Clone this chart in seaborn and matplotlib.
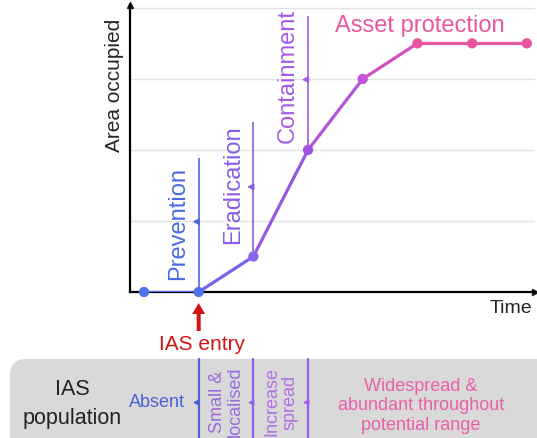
import matplotlib
matplotlib.use("Agg")
import matplotlib.pyplot as plt
import seaborn as sns
import pandas as pd
from matplotlib.patches import FancyBboxPatch
from matplotlib import transforms

# ---- data ----
time_steps = [0, 1, 2, 3, 4, 5, 6, 7]
area = [0, 0, 0.5, 2, 3, 3.5, 3.5, 3.5]
point_colors = ["#5072ea", "#5072ea", "#8a62ea", "#a052e0", "#c553d6",
                "#e8549e", "#e8549e", "#e8549e"]
segment_colors = ["#5072ea", "#7466ea", "#9458e2", "#b254da", "#d452bc",
                  "#e8559f", "#e8559f"]

stages = ["Prevention", "Eradication", "Containment"]
stage_x = [1, 2, 3]
stage_bottom = [0, 0.5, 2]
stage_top = [1.89, 2.39, 3.89]
stage_arrow_y = [0.99, 1.48, 2.99]
stage_label_x = [0.62, 1.63, 2.63]
stage_label_y = [0.98, 1.52, 3.05]
stage_colors = ["#4a6ae0", "#8a5ce6", "#a55ae6"]
final_stage = "Asset protection"
final_color = "#e8579f"

pop_labels = ["Absent", "Small &\nlocalised", "Increase\nspread",
              "Widespread &\nabundant throughout\npotential range"]
pop_colors = ["#4a62d8", "#9a6ae0", "#b070e0", "#e860a8"]
boundary_colors = ["#4a62d8", "#8a62ea", "#a55ae6"]

sns.set_theme(style="white")
plt.rcParams["font.family"] = ["Liberation Sans", "DejaVu Sans"]

fig = plt.figure(figsize=(5.37, 4.39), dpi=100)
W, H = 537, 439
overlay = fig.add_axes([0, 0, 1, 1], zorder=0)
overlay.set_xlim(0, W)
overlay.set_ylim(H, 0)
overlay.axis("off")

ax = fig.add_axes([130 / W, (H - 293) / H, 405 / W, 287 / H], zorder=1)
ax.set_facecolor("none")
ax.set_xlim(-0.256, 7.15)
ax.set_ylim(0, 4.04)
ax.set_xticks([])
ax.set_yticks([])
for g in [1, 2, 3, 4]:
    ax.axhline(g, color="#e3e3e3", lw=1, zorder=0)
for s in ["top", "right"]:
    ax.spines[s].set_visible(False)
for s in ["left", "bottom"]:
    ax.spines[s].set_color("black")
    ax.spines[s].set_linewidth(1.6)
ax.plot(1, 0, ">k", transform=ax.transAxes, clip_on=False, ms=5)
ax.plot(0, 1, "^k", transform=ax.transAxes, clip_on=False, ms=5)

# curve
for i in range(len(time_steps) - 1):
    sns.lineplot(x=time_steps[i:i + 2], y=area[i:i + 2], color=segment_colors[i],
                 lw=2.3, ax=ax, zorder=3)
df = pd.DataFrame({"t": time_steps, "a": area, "c": [str(i) for i in time_steps]})
sns.scatterplot(data=df, x="t", y="a", hue="c", palette=point_colors, s=55,
                edgecolor="none", legend=False, ax=ax, zorder=5, clip_on=False)
ax.set_xlabel("")
ax.set_ylabel("")

# stages
ax.vlines(stage_x, stage_bottom, stage_top, colors=stage_colors, lw=1.2, zorder=2)
ax.scatter([x - 0.04 for x in stage_x], stage_arrow_y, marker="<", s=14,
           c=stage_colors, zorder=2)
for name, x, y, c in zip(stages, stage_label_x, stage_label_y, stage_colors):
    ax.text(x, y, name, rotation=90, ha="center", va="center", fontsize=17, color=c)
ax.text(5.05, 3.76, final_stage, ha="center", va="center", fontsize=17, color=final_color)

overlay.text(115, 85, "Area occupied", rotation=90, ha="center", va="center", fontsize=15)
overlay.text(511, 309, "Time", ha="center", va="center", fontsize=14)

# IAS entry arrow
x_entry = ax.transData.transform((1, 0))[0]
overlay.arrow(x_entry, 332, 0, -28, width=4, head_width=13, head_length=11,
              length_includes_head=True, color="#d01515", lw=0)
overlay.text(x_entry + 3, 345, "IAS entry", ha="center", va="center", fontsize=15,
             color="#d01515")

# population box
box = FancyBboxPatch((10, 360), 545, 110, boxstyle="round,pad=0,rounding_size=16",
                     fc="#d9d9d9", ec="none", zorder=0)
overlay.add_patch(box)
overlay.text(72, 404, "IAS\npopulation", ha="center", va="center", fontsize=15.5,
             linespacing=1.45, color="#222222")
blend = transforms.blended_transform_factory(ax.transData, overlay.transData)
for x, c in zip(stage_x, boundary_colors):
    overlay.plot([x, x], [360, 439], color=c, lw=1.6, transform=blend, clip_on=False)
    overlay.scatter([x - 0.045], [403], marker="<", s=10, color=c, transform=blend)
overlay.text(157, 403, pop_labels[0], ha="center", va="center", fontsize=13,
             color=pop_colors[0])
overlay.text(226, 402, pop_labels[1], ha="center", va="center", fontsize=13,
             rotation=90, color=pop_colors[1], linespacing=1.05)
overlay.text(281, 402, pop_labels[2], ha="center", va="center", fontsize=13,
             rotation=90, color=pop_colors[2], linespacing=1.05)
overlay.text(421, 406, pop_labels[3], ha="center", va="center", fontsize=13,
             color=pop_colors[3], linespacing=1.2)

fig.savefig("out.png", dpi=100)
